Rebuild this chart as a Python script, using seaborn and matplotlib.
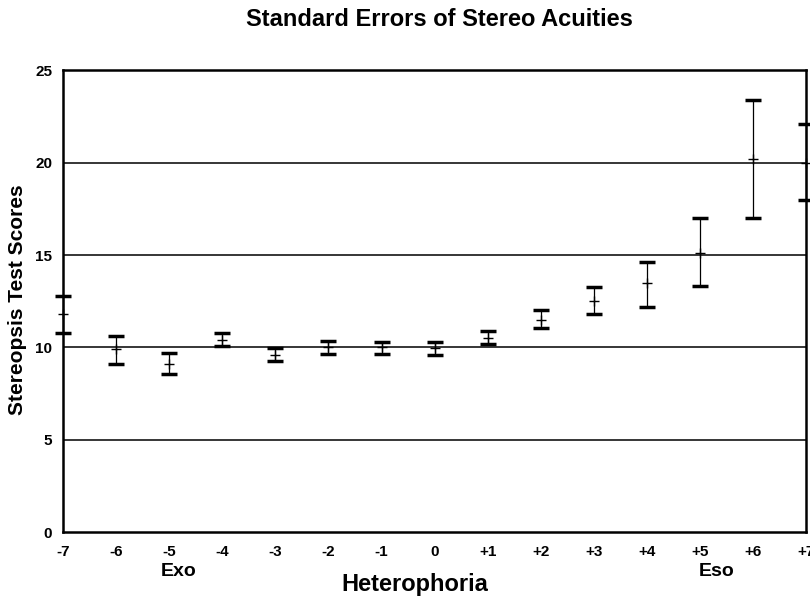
import pandas as pd
import matplotlib
matplotlib.use("Agg")
import matplotlib.pyplot as plt
import seaborn as sns

# Data
heterophoria = [-7, -6, -5, -4, -3, -2, -1, 0, 1, 2, 3, 4, 5, 6, 7]
tick_labels = ["-7", "-6", "-5", "-4", "-3", "-2", "-1", "0",
               "+1", "+2", "+3", "+4", "+5", "+6", "+7"]
mean_score = [11.8, 9.9, 9.1, 10.4, 9.6, 10.0, 10.0, 9.95, 10.5, 11.5, 12.5, 13.5, 15.1, 20.2, 20.0]
upper = [12.8, 10.6, 9.7, 10.8, 9.96, 10.35, 10.3, 10.3, 10.9, 12.05, 13.25, 14.6, 17.0, 23.4, 22.1]
lower = [10.8, 9.1, 8.55, 10.1, 9.25, 9.63, 9.63, 9.6, 10.2, 11.05, 11.8, 12.2, 13.3, 17.0, 18.0]

df = pd.DataFrame({"x": heterophoria, "mean": mean_score, "upper": upper, "lower": lower})

sns.set_style("white")
plt.rcParams['font.family'] = ['Liberation Sans', 'DejaVu Sans']
plt.rcParams['text.color'] = 'black'
plt.rcParams['xtick.color'] = 'black'
plt.rcParams['ytick.color'] = 'black'

fig = plt.figure(figsize=(8.1, 6), dpi=100)
ax = fig.add_axes([0.078, 0.113, 0.917, 0.77])

# horizontal reference lines
for yv in [5, 10, 15, 20]:
    ax.axhline(yv, color="black", lw=1.1, zorder=1)

# error bars
ax.errorbar(df["x"], df["mean"],
            yerr=[df["mean"] - df["lower"], df["upper"] - df["mean"]],
            fmt="none", ecolor="black", elinewidth=0.9, capsize=6, capthick=2.5,
            zorder=3, clip_on=False)

# mean markers
sns.scatterplot(data=df, x="x", y="mean", marker="+", color="black", s=45,
                linewidth=1.0, ax=ax, zorder=4, clip_on=False)

ax.set_xlim(-7, 7)
ax.set_ylim(0, 25)
ax.set_xticks(heterophoria)
ax.set_xticklabels(tick_labels)
ax.set_yticks([0, 5, 10, 15, 20, 25])
ax.tick_params(axis="x", length=0, labelsize=11, pad=9)
ax.tick_params(axis="y", length=0, labelsize=11, pad=8)
for lab in ax.get_xticklabels() + ax.get_yticklabels():
    lab.set_fontweight("bold")

for sp in ax.spines.values():
    sp.set_color("black")
    sp.set_linewidth(1.8)

ax.set_xlabel("")
ax.set_ylabel("")
fig.text(0.512, 0.025, "Heterophoria", fontsize=17, fontweight="bold", ha="center", va="center")
fig.text(0.022, 0.5, "Stereopsis Test Scores", fontsize=15, fontweight="bold",
         ha="center", va="center", rotation=90)
fig.text(0.543, 0.967, "Standard Errors of Stereo Acuities", fontsize=17, fontweight="bold",
         ha="center", va="center")

fig.text(0.22, 0.047, "Exo", fontsize=14, fontweight="bold", ha="center", va="center")
fig.text(0.885, 0.047, "Eso", fontsize=14, fontweight="bold", ha="center", va="center")

fig.savefig("out.png", dpi=100)
